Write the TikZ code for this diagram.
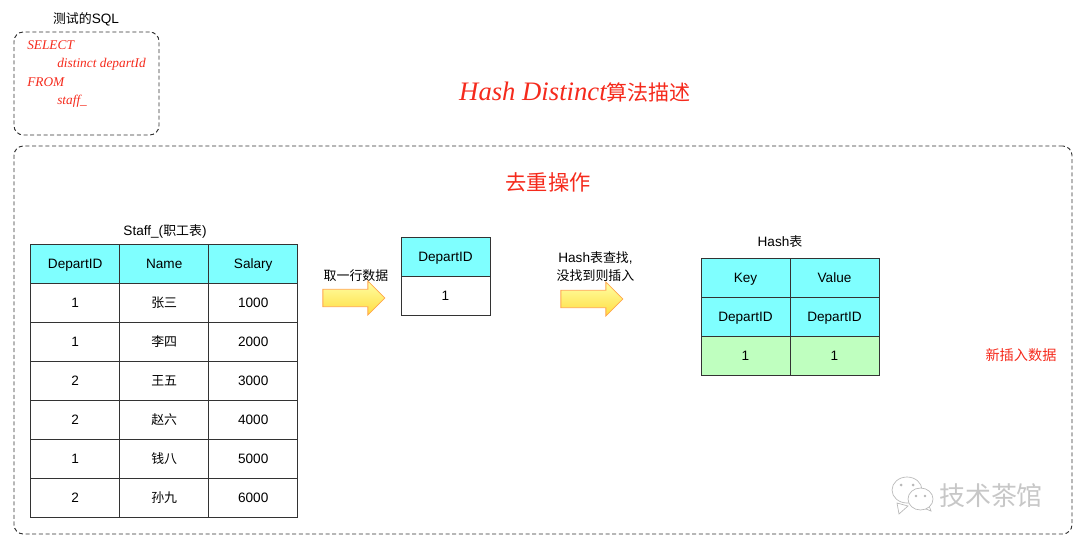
\documentclass[tikz,border=0pt]{standalone}
\usepackage{fontspec}
\setmainfont{Liberation Sans}
\newfontfamily\cjkfont[Scale=0.95]{Noto Sans CJK SC}
\newfontfamily\handfont{Liberation Serif}
\usepackage{xcolor}
\usetikzlibrary{positioning, shapes.arrows}
\definecolor{headcyan}{HTML}{7FFFFF}
\definecolor{newgreen}{HTML}{BFFFBF}
\definecolor{penred}{HTML}{F52A1C}
\tikzset{
    cell/.style={draw=black!80, line width=0.6pt, minimum width=66.75pt, minimum height=29.25pt, inner sep=0pt, outer sep=0pt, text height=7pt, text depth=0pt, font=\fontsize{10.2}{11}\selectfont},
    headcell/.style={cell, fill=headcyan},
    newcell/.style={cell, fill=newgreen},
    dashbox/.style={draw=black!80, dash pattern=on 3pt off 2pt, line width=0.7pt, rounded corners=7pt, inner sep=0pt, outer sep=0pt},
    caption/.style={font=\fontsize{10.2}{13.5}\selectfont, inner sep=0pt, align=center},
    handtext/.style={text=penred, inner sep=0pt, font=\handfont\itshape\fontsize{10}{12}\selectfont},
    blockarrow/.style={single arrow, draw=orange!70, line width=0.6pt, top color=yellow!35, bottom color=yellow!65!orange!75, shading angle=0, single arrow head extend=6pt, single arrow head indent=0pt, minimum width=25.5pt, minimum height=46.5pt, inner sep=6pt, outer sep=0pt},
    bubble/.style={draw=black!28, fill=white, line width=0.5pt}
}
\begin{document}
\begin{tikzpicture}[x=0.75pt, y=-0.75pt]
    \useasboundingbox (0,0) rectangle (1080,543);
    \node[dashbox, minimum width=108.75pt, minimum height=77.25pt] (sqlbox) at (86.5,83.5) {};
    \node[dashbox, minimum width=793.5pt, minimum height=291pt] (mainbox) at (543,340) {};
    \node[caption] (sqltitle) at (86,19) {{\cjkfont 测试的}SQL};
    \node[handtext, anchor=west] (sqlselect) at (27,45) {SELECT};
    \node[handtext, anchor=west] (sqldistinct) at (57,64) {distinct departId};
    \node[handtext, anchor=west] (sqlfrom) at (27,82) {FROM};
    \node[handtext, anchor=west] (sqlstaff) at (57,101) {staff\_};
    \node[handtext, font=\handfont\itshape\fontsize{20}{24}\selectfont] (title) at (575,92) {Hash Distinct{\cjkfont\upshape\fontsize{16.6}{24}\selectfont 算法描述}};
    \node[handtext, font=\cjkfont\fontsize{16.8}{20}\selectfont] (optitle) at (548,182) {去重操作};

    \node[caption] (stafftitle) at (165,231) {Staff\_({\cjkfont 职工表})};
    \foreach \name/\cx/\txt in {depart/75.2/DepartID, name/164.2/Name, salary/253.2/Salary} {
        \node[headcell] (staff-\name) at (\cx,263.5) {\txt};
    }
    \foreach \row/\cy/\dep/\who/\pay in {1/302.5/1/张三/1000, 2/341.5/1/李四/2000, 3/380.5/2/王五/3000, 4/419.5/2/赵六/4000, 5/458.5/1/钱八/5000, 6/497.5/2/孙九/6000} {
        \node[cell] (depart-\row) at (75.2,\cy) {\dep};
        \node[cell] (name-\row) at (164.2,\cy) {\cjkfont\who};
        \node[cell] (salary-\row) at (253.2,\cy) {\pay};
    }

    \node[caption] (takelabel) at (356,276) {\cjkfont 取一行数据};
    \node[blockarrow] (takearrow) at (349.5,298) {};
    \node[headcell] (rowhead) at (445.5,256.5) {DepartID};
    \node[cell] (rowvalue) at (445.5,295.5) {1};

    \node[caption] (findlabel) at (595.5,267) {Hash{\cjkfont 表查找},\\{\cjkfont 没找到则插入}};
    \node[blockarrow] (findarrow) at (587.5,299) {};

    \node[caption] (hashtitle) at (780,242) {Hash{\cjkfont 表}};
    \node[headcell] (hash-key) at (745.5,277.5) {Key};
    \node[headcell] (hash-value) at (834.5,277.5) {Value};
    \node[headcell] (hash-keyid) at (745.5,316.5) {DepartID};
    \node[headcell] (hash-valueid) at (834.5,316.5) {DepartID};
    \node[newcell] (hash-keynew) at (745.5,355.5) {1};
    \node[newcell] (hash-valuenew) at (834.5,355.5) {1};
    \node[handtext, font=\cjkfont\fontsize{11.2}{12}\selectfont] (newlabel) at (1021,355) {新插入数据};

    \draw[bubble] (897,503) -- (899,514) -- (908,506) -- cycle;
    \draw[bubble] (907,490) ellipse (15 and 13);
    \fill[black!28] (901,485) circle (1.5) (913,485) circle (1.5);
    \draw[bubble] (926,509) -- (931,511) -- (928,503) -- cycle;
    \draw[bubble] (920.5,499) ellipse (12.5 and 11);
    \fill[black!28] (916,496) circle (1.3) (925,496) circle (1.3);
    \node[inner sep=0pt, text=black!22, font=\cjkfont\fontsize{20.5}{22}\selectfont] (mark) at (991,496) {技术茶馆};
\end{tikzpicture}
\end{document}
